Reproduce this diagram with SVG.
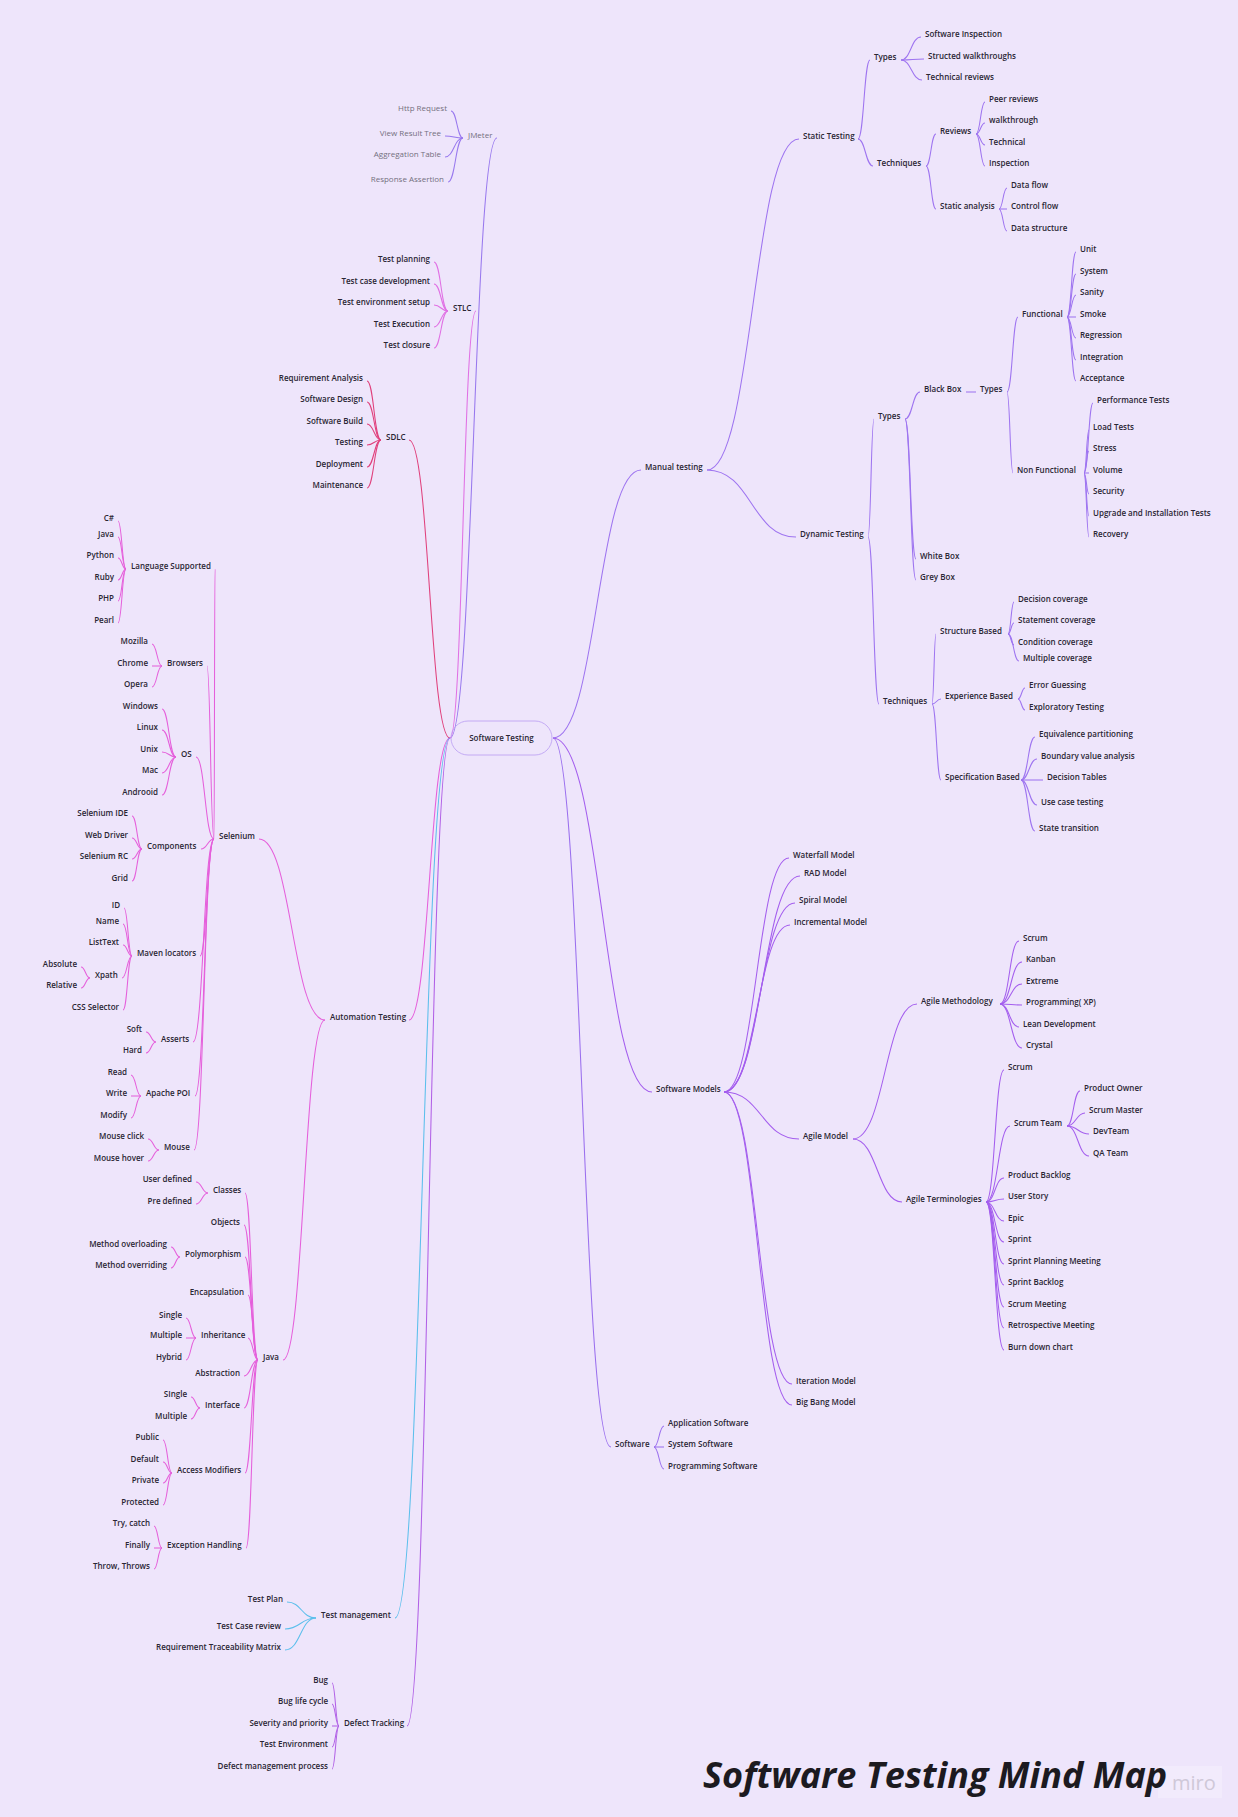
<svg xmlns="http://www.w3.org/2000/svg" width="1238" height="1817" viewBox="0 0 1238 1817">
<style>
.t{font-family:"Open Sans","Liberation Sans",sans-serif;font-size:8px;font-weight:600;fill:#2a2633}
.e{text-anchor:end}
.g{font-weight:400;fill:#74707e}
.m{text-anchor:middle}
#connectors path{fill:none;stroke-width:1.05}
.jm{stroke:#9878ee}.st{stroke:#e070e4}.sd{stroke:#e0407c}.au{stroke:#e55fdb}.tm{stroke:#5bbfec}.dt{stroke:#b160e6}.mt{stroke:#9e74f0}.sm{stroke:#a45eee}.sw{stroke:#9a6fee}
.title{font-family:"Open Sans","Liberation Sans",sans-serif;font-size:36px;font-weight:700;font-style:italic;fill:#1c1a20}
.wm{font-family:"Open Sans","Liberation Sans",sans-serif;font-size:20px;font-weight:400;fill:#cfc8d8}
</style>
<rect x="0" y="0" width="1238" height="1817" fill="#eee5fb"/>
<g id="connectors">
<path class="jm" d="M497 138C473.5 138 473.5 738 450 738"/>
<path class="jm" d="M463 138C457 138 457 111 451 111"/>
<path class="jm" d="M463 138C454 138 454 136 445 136"/>
<path class="jm" d="M463 138C454 138 454 157 445 157"/>
<path class="jm" d="M463 138C455.5 138 455.5 182 448 182"/>
<path class="st" d="M476 311C463 311 463 738 450 738"/>
<path class="st" d="M448 311C441 311 441 262 434 262"/>
<path class="st" d="M448 311C441 311 441 284 434 284"/>
<path class="st" d="M448 311C441 311 441 305 434 305"/>
<path class="st" d="M448 311C441 311 441 327 434 327"/>
<path class="st" d="M448 311C441 311 441 348 434 348"/>
<path class="sd" d="M409 440C429.5 440 429.5 738 450 738"/>
<path class="sd" d="M381 440C374 440 374 381 367 381"/>
<path class="sd" d="M381 440C374 440 374 402 367 402"/>
<path class="sd" d="M381 440C374 440 374 424 367 424"/>
<path class="sd" d="M381 440C374 440 374 445 367 445"/>
<path class="sd" d="M381 440C374 440 374 467 367 467"/>
<path class="sd" d="M381 440C374 440 374 488 367 488"/>
<path class="au" d="M409 1020C429.5 1020 429.5 738 450 738"/>
<path class="au" d="M325 1020C292 1020 292 839 259 839"/>
<path class="au" d="M325 1020C304 1020 304 1360 283 1360"/>
<path class="au" d="M214 839C214.5 839 214.5 569 215 569"/>
<path class="au" d="M214 839C210.5 839 210.5 666 207 666"/>
<path class="au" d="M214 839C205 839 205 757 196 757"/>
<path class="au" d="M214 839C207.5 839 207.5 849 201 849"/>
<path class="au" d="M214 839C207 839 207 956 200 956"/>
<path class="au" d="M214 839C203.5 839 203.5 1042 193 1042"/>
<path class="au" d="M214 839C204.5 839 204.5 1096 195 1096"/>
<path class="au" d="M214 839C204 839 204 1150 194 1150"/>
<path class="au" d="M126 569C122 569 122 521 118 521"/>
<path class="au" d="M126 569C122 569 122 537 118 537"/>
<path class="au" d="M126 569C122 569 122 558 118 558"/>
<path class="au" d="M126 569C122 569 122 580 118 580"/>
<path class="au" d="M126 569C122 569 122 601 118 601"/>
<path class="au" d="M126 569C122 569 122 623 118 623"/>
<path class="au" d="M162 666C157 666 157 644 152 644"/>
<path class="au" d="M162 666L152 666"/>
<path class="au" d="M162 666C157 666 157 687 152 687"/>
<path class="au" d="M176 757C169 757 169 709 162 709"/>
<path class="au" d="M176 757C169 757 169 730 162 730"/>
<path class="au" d="M176 757C169 757 169 752 162 752"/>
<path class="au" d="M176 757C169 757 169 773 162 773"/>
<path class="au" d="M176 757C169 757 169 795 162 795"/>
<path class="au" d="M142 849C137 849 137 816 132 816"/>
<path class="au" d="M142 849C137 849 137 838 132 838"/>
<path class="au" d="M142 849C137 849 137 859 132 859"/>
<path class="au" d="M142 849C137 849 137 881 132 881"/>
<path class="au" d="M132 956C128 956 128 908 124 908"/>
<path class="au" d="M132 956C127.5 956 127.5 924 123 924"/>
<path class="au" d="M132 956C127.5 956 127.5 945 123 945"/>
<path class="au" d="M132 956C127 956 127 978 122 978"/>
<path class="au" d="M132 956C127.5 956 127.5 1010 123 1010"/>
<path class="au" d="M90 978C85.5 978 85.5 967 81 967"/>
<path class="au" d="M90 978C85.5 978 85.5 988 81 988"/>
<path class="au" d="M156 1042C151 1042 151 1032 146 1032"/>
<path class="au" d="M156 1042C151 1042 151 1053 146 1053"/>
<path class="au" d="M141 1096C136 1096 136 1075 131 1075"/>
<path class="au" d="M141 1096L131 1096"/>
<path class="au" d="M141 1096C136 1096 136 1118 131 1118"/>
<path class="au" d="M159 1150C153.5 1150 153.5 1139 148 1139"/>
<path class="au" d="M159 1150C153.5 1150 153.5 1161 148 1161"/>
<path class="au" d="M258 1360C251.5 1360 251.5 1193 245 1193"/>
<path class="au" d="M258 1360C251 1360 251 1225 244 1225"/>
<path class="au" d="M258 1360C251.5 1360 251.5 1257 245 1257"/>
<path class="au" d="M258 1360C253 1360 253 1295 248 1295"/>
<path class="au" d="M258 1360C253 1360 253 1338 248 1338"/>
<path class="au" d="M258 1360C251 1360 251 1376 244 1376"/>
<path class="au" d="M258 1360C251 1360 251 1408 244 1408"/>
<path class="au" d="M258 1360C251.5 1360 251.5 1473 245 1473"/>
<path class="au" d="M258 1360C252 1360 252 1548 246 1548"/>
<path class="au" d="M208 1193C202 1193 202 1182 196 1182"/>
<path class="au" d="M208 1193C202 1193 202 1204 196 1204"/>
<path class="au" d="M180 1257C175.5 1257 175.5 1247 171 1247"/>
<path class="au" d="M180 1257C175.5 1257 175.5 1268 171 1268"/>
<path class="au" d="M196 1338C191 1338 191 1318 186 1318"/>
<path class="au" d="M196 1338L186 1338"/>
<path class="au" d="M196 1338C191 1338 191 1360 186 1360"/>
<path class="au" d="M200 1408C195.5 1408 195.5 1397 191 1397"/>
<path class="au" d="M200 1408C195.5 1408 195.5 1419 191 1419"/>
<path class="au" d="M172 1473C167.5 1473 167.5 1440 163 1440"/>
<path class="au" d="M172 1473C167.5 1473 167.5 1462 163 1462"/>
<path class="au" d="M172 1473C167.5 1473 167.5 1483 163 1483"/>
<path class="au" d="M172 1473C167.5 1473 167.5 1505 163 1505"/>
<path class="au" d="M162 1548C158 1548 158 1526 154 1526"/>
<path class="au" d="M162 1548L154 1548"/>
<path class="au" d="M162 1548C158 1548 158 1569 154 1569"/>
<path class="tm" d="M395 1618C422.5 1618 422.5 738 450 738"/>
<path class="tm" d="M316 1618C301.5 1618 301.5 1602 287 1602"/>
<path class="tm" d="M316 1618C300.5 1618 300.5 1629 285 1629"/>
<path class="tm" d="M316 1618C300.5 1618 300.5 1650 285 1650"/>
<path class="dt" d="M407 1726C428.5 1726 428.5 738 450 738"/>
<path class="dt" d="M339 1726C335.5 1726 335.5 1683 332 1683"/>
<path class="dt" d="M339 1726C335.5 1726 335.5 1704 332 1704"/>
<path class="dt" d="M339 1726L332 1726"/>
<path class="dt" d="M339 1726C335.5 1726 335.5 1747 332 1747"/>
<path class="dt" d="M339 1726C335.5 1726 335.5 1769 332 1769"/>
<path class="mt" d="M553 738C597 738 597 470 641 470"/>
<path class="mt" d="M707 470C753 470 753 139 799 139"/>
<path class="mt" d="M707 470C751.5 470 751.5 537 796 537"/>
<path class="mt" d="M858 139C864 139 864 60 870 60"/>
<path class="mt" d="M858 139C865.5 139 865.5 166 873 166"/>
<path class="mt" d="M901 60C911 60 911 37 921 37"/>
<path class="mt" d="M901 60C912.5 60 912.5 59 924 59"/>
<path class="mt" d="M901 60C911.5 60 911.5 80 922 80"/>
<path class="mt" d="M926 166C931 166 931 134 936 134"/>
<path class="mt" d="M926 166C931 166 931 209 936 209"/>
<path class="mt" d="M976 134C980.5 134 980.5 102 985 102"/>
<path class="mt" d="M976 134C980.5 134 980.5 123 985 123"/>
<path class="mt" d="M976 134C980.5 134 980.5 145 985 145"/>
<path class="mt" d="M976 134C980.5 134 980.5 166 985 166"/>
<path class="mt" d="M999 209C1003 209 1003 188 1007 188"/>
<path class="mt" d="M999 209L1007 209"/>
<path class="mt" d="M999 209C1003 209 1003 231 1007 231"/>
<path class="mt" d="M868 537C871 537 871 419 874 419"/>
<path class="mt" d="M868 537C873.5 537 873.5 704 879 704"/>
<path class="mt" d="M905 419C912.5 419 912.5 392 920 392"/>
<path class="mt" d="M905 419C910.5 419 910.5 559 916 559"/>
<path class="mt" d="M905 419C910.5 419 910.5 580 916 580"/>
<path class="mt" d="M966 392L976 392"/>
<path class="mt" d="M1007 392C1012.5 392 1012.5 317 1018 317"/>
<path class="mt" d="M1007 392C1010 392 1010 473 1013 473"/>
<path class="mt" d="M1067 317C1071.5 317 1071.5 252 1076 252"/>
<path class="mt" d="M1067 317C1071.5 317 1071.5 274 1076 274"/>
<path class="mt" d="M1067 317C1071.5 317 1071.5 295 1076 295"/>
<path class="mt" d="M1067 317L1076 317"/>
<path class="mt" d="M1067 317C1071.5 317 1071.5 338 1076 338"/>
<path class="mt" d="M1067 317C1071.5 317 1071.5 360 1076 360"/>
<path class="mt" d="M1067 317C1071.5 317 1071.5 381 1076 381"/>
<path class="mt" d="M1084 473C1088.5 473 1088.5 403 1093 403"/>
<path class="mt" d="M1084 473C1086.5 473 1086.5 430 1089 430"/>
<path class="mt" d="M1084 473C1086.5 473 1086.5 451 1089 451"/>
<path class="mt" d="M1084 473L1089 473"/>
<path class="mt" d="M1084 473C1086.5 473 1086.5 494 1089 494"/>
<path class="mt" d="M1084 473C1086.5 473 1086.5 516 1089 516"/>
<path class="mt" d="M1084 473C1086.5 473 1086.5 537 1089 537"/>
<path class="mt" d="M932 704C934 704 934 634 936 634"/>
<path class="mt" d="M932 704C936.5 704 936.5 699 941 699"/>
<path class="mt" d="M932 704C936.5 704 936.5 780 941 780"/>
<path class="mt" d="M1008 634C1011 634 1011 602 1014 602"/>
<path class="mt" d="M1008 634C1011 634 1011 623 1014 623"/>
<path class="mt" d="M1008 634C1011 634 1011 645 1014 645"/>
<path class="mt" d="M1008 634C1013.5 634 1013.5 661 1019 661"/>
<path class="mt" d="M1018 699C1021.5 699 1021.5 688 1025 688"/>
<path class="mt" d="M1018 699C1021.5 699 1021.5 710 1025 710"/>
<path class="mt" d="M1021 780C1028 780 1028 737 1035 737"/>
<path class="mt" d="M1021 780C1029 780 1029 759 1037 759"/>
<path class="mt" d="M1021 780L1043 780"/>
<path class="mt" d="M1021 780C1029 780 1029 805 1037 805"/>
<path class="mt" d="M1021 780C1028 780 1028 831 1035 831"/>
<path class="sm" d="M553 738C602.5 738 602.5 1092 652 1092"/>
<path class="sm" d="M724 1092C756.5 1092 756.5 858 789 858"/>
<path class="sm" d="M724 1092C762 1092 762 876 800 876"/>
<path class="sm" d="M724 1092C759.5 1092 759.5 903 795 903"/>
<path class="sm" d="M724 1092C757 1092 757 925 790 925"/>
<path class="sm" d="M724 1092C761.5 1092 761.5 1139 799 1139"/>
<path class="sm" d="M724 1092C758 1092 758 1384 792 1384"/>
<path class="sm" d="M724 1092C758 1092 758 1405 792 1405"/>
<path class="sm" d="M853 1139C885 1139 885 1004 917 1004"/>
<path class="sm" d="M853 1139C877.5 1139 877.5 1202 902 1202"/>
<path class="sm" d="M1000 1004C1009.5 1004 1009.5 941 1019 941"/>
<path class="sm" d="M1000 1004C1011 1004 1011 962 1022 962"/>
<path class="sm" d="M1000 1004C1011 1004 1011 984 1022 984"/>
<path class="sm" d="M1000 1004C1011 1004 1011 1005 1022 1005"/>
<path class="sm" d="M1000 1004C1009.5 1004 1009.5 1027 1019 1027"/>
<path class="sm" d="M1000 1004C1011 1004 1011 1048 1022 1048"/>
<path class="sm" d="M986 1202C995 1202 995 1070 1004 1070"/>
<path class="sm" d="M986 1202C998 1202 998 1126 1010 1126"/>
<path class="sm" d="M986 1202C995 1202 995 1178 1004 1178"/>
<path class="sm" d="M986 1202C995 1202 995 1199 1004 1199"/>
<path class="sm" d="M986 1202C995 1202 995 1221 1004 1221"/>
<path class="sm" d="M986 1202C995 1202 995 1242 1004 1242"/>
<path class="sm" d="M986 1202C995 1202 995 1264 1004 1264"/>
<path class="sm" d="M986 1202C995 1202 995 1285 1004 1285"/>
<path class="sm" d="M986 1202C995 1202 995 1307 1004 1307"/>
<path class="sm" d="M986 1202C995 1202 995 1328 1004 1328"/>
<path class="sm" d="M986 1202C995 1202 995 1350 1004 1350"/>
<path class="sm" d="M1067 1126C1073.5 1126 1073.5 1091 1080 1091"/>
<path class="sm" d="M1067 1126C1076 1126 1076 1113 1085 1113"/>
<path class="sm" d="M1067 1126C1078 1126 1078 1134 1089 1134"/>
<path class="sm" d="M1067 1126C1078 1126 1078 1156 1089 1156"/>
<path class="sw" d="M553 738C582 738 582 1447 611 1447"/>
<path class="sw" d="M654 1447C659 1447 659 1426 664 1426"/>
<path class="sw" d="M654 1447L664 1447"/>
<path class="sw" d="M654 1447C659 1447 659 1469 664 1469"/>
</g>
<g id="n-root"><rect x="451" y="721" width="101" height="34" rx="17" fill="none" stroke="#b99cf2" stroke-width="0.8"/><text class="t m" x="501.5" y="741">Software Testing</text></g>
<g id="n-jmeter"><text class="t g" x="468" y="138">JMeter</text></g>
<g id="n-http"><text class="t g e" x="447" y="111">Http Request</text></g>
<g id="n-vrt"><text class="t g e" x="441" y="136">View Result Tree</text></g>
<g id="n-agg"><text class="t g e" x="441" y="157">Aggregation Table</text></g>
<g id="n-ra"><text class="t g e" x="444" y="182">Response Assertion</text></g>
<g id="n-stlc"><text class="t" x="453" y="311">STLC</text></g>
<g id="n-st1"><text class="t e" x="430" y="262">Test planning</text></g>
<g id="n-st2"><text class="t e" x="430" y="284">Test case development</text></g>
<g id="n-st3"><text class="t e" x="430" y="305">Test environment setup</text></g>
<g id="n-st4"><text class="t e" x="430" y="327">Test Execution</text></g>
<g id="n-st5"><text class="t e" x="430" y="348">Test closure</text></g>
<g id="n-sdlc"><text class="t" x="386" y="440">SDLC</text></g>
<g id="n-sd1"><text class="t e" x="363" y="381">Requirement Analysis</text></g>
<g id="n-sd2"><text class="t e" x="363" y="402">Software Design</text></g>
<g id="n-sd3"><text class="t e" x="363" y="424">Software Build</text></g>
<g id="n-sd4"><text class="t e" x="363" y="445">Testing</text></g>
<g id="n-sd5"><text class="t e" x="363" y="467">Deployment</text></g>
<g id="n-sd6"><text class="t e" x="363" y="488">Maintenance</text></g>
<g id="n-auto"><text class="t" x="330" y="1020">Automation Testing</text></g>
<g id="n-selenium"><text class="t" x="219" y="839">Selenium</text></g>
<g id="n-lang"><text class="t" x="131" y="569">Language Supported</text></g>
<g id="n-l1"><text class="t e" x="114" y="521">C#</text></g>
<g id="n-l2"><text class="t e" x="114" y="537">Java</text></g>
<g id="n-l3"><text class="t e" x="114" y="558">Python</text></g>
<g id="n-l4"><text class="t e" x="114" y="580">Ruby</text></g>
<g id="n-l5"><text class="t e" x="114" y="601">PHP</text></g>
<g id="n-l6"><text class="t e" x="114" y="623">Pearl</text></g>
<g id="n-browsers"><text class="t" x="167" y="666">Browsers</text></g>
<g id="n-b1"><text class="t e" x="148" y="644">Mozilla</text></g>
<g id="n-b2"><text class="t e" x="148" y="666">Chrome</text></g>
<g id="n-b3"><text class="t e" x="148" y="687">Opera</text></g>
<g id="n-os"><text class="t" x="181" y="757">OS</text></g>
<g id="n-o1"><text class="t e" x="158" y="709">Windows</text></g>
<g id="n-o2"><text class="t e" x="158" y="730">Linux</text></g>
<g id="n-o3"><text class="t e" x="158" y="752">Unix</text></g>
<g id="n-o4"><text class="t e" x="158" y="773">Mac</text></g>
<g id="n-o5"><text class="t e" x="158" y="795">Androoid</text></g>
<g id="n-comp"><text class="t" x="147" y="849">Components</text></g>
<g id="n-c1"><text class="t e" x="128" y="816">Selenium IDE</text></g>
<g id="n-c2"><text class="t e" x="128" y="838">Web Driver</text></g>
<g id="n-c3"><text class="t e" x="128" y="859">Selenium RC</text></g>
<g id="n-c4"><text class="t e" x="128" y="881">Grid</text></g>
<g id="n-maven"><text class="t" x="137" y="956">Maven locators</text></g>
<g id="n-m1"><text class="t e" x="120" y="908">ID</text></g>
<g id="n-m2"><text class="t e" x="119" y="924">Name</text></g>
<g id="n-m3"><text class="t e" x="119" y="945">ListText</text></g>
<g id="n-xpath"><text class="t" x="95" y="978">Xpath</text></g>
<g id="n-x1"><text class="t e" x="77" y="967">Absolute</text></g>
<g id="n-x2"><text class="t e" x="77" y="988">Relative</text></g>
<g id="n-m5"><text class="t e" x="119" y="1010">CSS Selector</text></g>
<g id="n-asserts"><text class="t" x="161" y="1042">Asserts</text></g>
<g id="n-a1"><text class="t e" x="142" y="1032">Soft</text></g>
<g id="n-a2"><text class="t e" x="142" y="1053">Hard</text></g>
<g id="n-poi"><text class="t" x="146" y="1096">Apache POI</text></g>
<g id="n-p1"><text class="t e" x="127" y="1075">Read</text></g>
<g id="n-p2"><text class="t e" x="127" y="1096">Write</text></g>
<g id="n-p3"><text class="t e" x="127" y="1118">Modify</text></g>
<g id="n-mouse"><text class="t" x="164" y="1150">Mouse</text></g>
<g id="n-mo1"><text class="t e" x="144" y="1139">Mouse click</text></g>
<g id="n-mo2"><text class="t e" x="144" y="1161">Mouse hover</text></g>
<g id="n-java"><text class="t" x="263" y="1360">Java</text></g>
<g id="n-classes"><text class="t" x="213" y="1193">Classes</text></g>
<g id="n-cl1"><text class="t e" x="192" y="1182">User defined</text></g>
<g id="n-cl2"><text class="t e" x="192" y="1204">Pre defined</text></g>
<g id="n-objects"><text class="t e" x="240" y="1225">Objects</text></g>
<g id="n-poly"><text class="t" x="185" y="1257">Polymorphism</text></g>
<g id="n-po1"><text class="t e" x="167" y="1247">Method overloading</text></g>
<g id="n-po2"><text class="t e" x="167" y="1268">Method overriding</text></g>
<g id="n-encap"><text class="t e" x="244" y="1295">Encapsulation</text></g>
<g id="n-inh"><text class="t" x="201" y="1338">Inheritance</text></g>
<g id="n-i1"><text class="t e" x="182" y="1318">Single</text></g>
<g id="n-i2"><text class="t e" x="182" y="1338">Multiple</text></g>
<g id="n-i3"><text class="t e" x="182" y="1360">Hybrid</text></g>
<g id="n-abs"><text class="t e" x="240" y="1376">Abstraction</text></g>
<g id="n-iface"><text class="t" x="205" y="1408">Interface</text></g>
<g id="n-if1"><text class="t e" x="187" y="1397">SIngle</text></g>
<g id="n-if2"><text class="t e" x="187" y="1419">Multiple</text></g>
<g id="n-access"><text class="t" x="177" y="1473">Access Modifiers</text></g>
<g id="n-ac1"><text class="t e" x="159" y="1440">Public</text></g>
<g id="n-ac2"><text class="t e" x="159" y="1462">Default</text></g>
<g id="n-ac3"><text class="t e" x="159" y="1483">Private</text></g>
<g id="n-ac4"><text class="t e" x="159" y="1505">Protected</text></g>
<g id="n-exc"><text class="t" x="167" y="1548">Exception Handling</text></g>
<g id="n-ex1"><text class="t e" x="150" y="1526">Try, catch</text></g>
<g id="n-ex2"><text class="t e" x="150" y="1548">Finally</text></g>
<g id="n-ex3"><text class="t e" x="150" y="1569">Throw, Throws</text></g>
<g id="n-tm"><text class="t" x="321" y="1618">Test management</text></g>
<g id="n-tm1"><text class="t e" x="283" y="1602">Test Plan</text></g>
<g id="n-tm2"><text class="t e" x="281" y="1629">Test Case review</text></g>
<g id="n-tm3"><text class="t e" x="281" y="1650">Requirement Traceability Matrix</text></g>
<g id="n-dt"><text class="t" x="344" y="1726">Defect Tracking</text></g>
<g id="n-dt1"><text class="t e" x="328" y="1683">Bug</text></g>
<g id="n-dt2"><text class="t e" x="328" y="1704">Bug life cycle</text></g>
<g id="n-dt3"><text class="t e" x="328" y="1726">Severity and priority</text></g>
<g id="n-dt4"><text class="t e" x="328" y="1747">Test Environment</text></g>
<g id="n-dt5"><text class="t e" x="328" y="1769">Defect management process</text></g>
<g id="n-manual"><text class="t" x="645" y="470">Manual testing</text></g>
<g id="n-static"><text class="t" x="803" y="139">Static Testing</text></g>
<g id="n-stypes"><text class="t" x="874" y="60">Types</text></g>
<g id="n-sty1"><text class="t" x="925" y="37">Software Inspection</text></g>
<g id="n-sty2"><text class="t" x="928" y="59">Structed walkthroughs</text></g>
<g id="n-sty3"><text class="t" x="926" y="80">Technical reviews</text></g>
<g id="n-stech"><text class="t" x="877" y="166">Techniques</text></g>
<g id="n-reviews"><text class="t" x="940" y="134">Reviews</text></g>
<g id="n-r1"><text class="t" x="989" y="102">Peer reviews</text></g>
<g id="n-r2"><text class="t" x="989" y="123">walkthrough</text></g>
<g id="n-r3"><text class="t" x="989" y="145">Technical</text></g>
<g id="n-r4"><text class="t" x="989" y="166">Inspection</text></g>
<g id="n-sanalysis"><text class="t" x="940" y="209">Static analysis</text></g>
<g id="n-sa1"><text class="t" x="1011" y="188">Data flow</text></g>
<g id="n-sa2"><text class="t" x="1011" y="209">Control flow</text></g>
<g id="n-sa3"><text class="t" x="1011" y="231">Data structure</text></g>
<g id="n-dynamic"><text class="t" x="800" y="537">Dynamic Testing</text></g>
<g id="n-dtypes"><text class="t" x="878" y="419">Types</text></g>
<g id="n-blackbox"><text class="t" x="924" y="392">Black Box</text></g>
<g id="n-bbtypes"><text class="t" x="980" y="392">Types</text></g>
<g id="n-functional"><text class="t" x="1022" y="317">Functional</text></g>
<g id="n-f1"><text class="t" x="1080" y="252">Unit</text></g>
<g id="n-f2"><text class="t" x="1080" y="274">System</text></g>
<g id="n-f3"><text class="t" x="1080" y="295">Sanity</text></g>
<g id="n-f4"><text class="t" x="1080" y="317">Smoke</text></g>
<g id="n-f5"><text class="t" x="1080" y="338">Regression</text></g>
<g id="n-f6"><text class="t" x="1080" y="360">Integration</text></g>
<g id="n-f7"><text class="t" x="1080" y="381">Acceptance</text></g>
<g id="n-nonfunc"><text class="t" x="1017" y="473">Non Functional</text></g>
<g id="n-nf1"><text class="t" x="1097" y="403">Performance Tests</text></g>
<g id="n-nf2"><text class="t" x="1093" y="430">Load Tests</text></g>
<g id="n-nf3"><text class="t" x="1093" y="451">Stress</text></g>
<g id="n-nf4"><text class="t" x="1093" y="473">Volume</text></g>
<g id="n-nf5"><text class="t" x="1093" y="494">Security</text></g>
<g id="n-nf6"><text class="t" x="1093" y="516">Upgrade and Installation Tests</text></g>
<g id="n-nf7"><text class="t" x="1093" y="537">Recovery</text></g>
<g id="n-whitebox"><text class="t" x="920" y="559">White Box</text></g>
<g id="n-greybox"><text class="t" x="920" y="580">Grey Box</text></g>
<g id="n-dtech"><text class="t" x="883" y="704">Techniques</text></g>
<g id="n-structure"><text class="t" x="940" y="634">Structure Based</text></g>
<g id="n-sb1"><text class="t" x="1018" y="602">Decision coverage</text></g>
<g id="n-sb2"><text class="t" x="1018" y="623">Statement coverage</text></g>
<g id="n-sb3"><text class="t" x="1018" y="645">Condition coverage</text></g>
<g id="n-sb4"><text class="t" x="1023" y="661">Multiple coverage</text></g>
<g id="n-experience"><text class="t" x="945" y="699">Experience Based</text></g>
<g id="n-eb1"><text class="t" x="1029" y="688">Error Guessing</text></g>
<g id="n-eb2"><text class="t" x="1029" y="710">Exploratory Testing</text></g>
<g id="n-spec"><text class="t" x="945" y="780">Specification Based</text></g>
<g id="n-sp1"><text class="t" x="1039" y="737">Equivalence partitioning</text></g>
<g id="n-sp2"><text class="t" x="1041" y="759">Boundary value analysis</text></g>
<g id="n-sp3"><text class="t" x="1047" y="780">Decision Tables</text></g>
<g id="n-sp4"><text class="t" x="1041" y="805">Use case testing</text></g>
<g id="n-sp5"><text class="t" x="1039" y="831">State transition</text></g>
<g id="n-models"><text class="t" x="656" y="1092">Software Models</text></g>
<g id="n-waterfall"><text class="t" x="793" y="858">Waterfall Model</text></g>
<g id="n-rad"><text class="t" x="804" y="876">RAD Model</text></g>
<g id="n-spiral"><text class="t" x="799" y="903">Spiral Model</text></g>
<g id="n-incremental"><text class="t" x="794" y="925">Incremental Model</text></g>
<g id="n-agile"><text class="t" x="803" y="1139">Agile Model</text></g>
<g id="n-agmeth"><text class="t" x="921" y="1004">Agile Methodology</text></g>
<g id="n-am1"><text class="t" x="1023" y="941">Scrum</text></g>
<g id="n-am2"><text class="t" x="1026" y="962">Kanban</text></g>
<g id="n-am3"><text class="t" x="1026" y="984">Extreme</text></g>
<g id="n-am4"><text class="t" x="1026" y="1005">Programming( XP)</text></g>
<g id="n-am5"><text class="t" x="1023" y="1027">Lean Development</text></g>
<g id="n-am6"><text class="t" x="1026" y="1048">Crystal</text></g>
<g id="n-agterm"><text class="t" x="906" y="1202">Agile Terminologies</text></g>
<g id="n-at1"><text class="t" x="1008" y="1070">Scrum</text></g>
<g id="n-scrumteam"><text class="t" x="1014" y="1126">Scrum Team</text></g>
<g id="n-tt1"><text class="t" x="1084" y="1091">Product Owner</text></g>
<g id="n-tt2"><text class="t" x="1089" y="1113">Scrum Master</text></g>
<g id="n-tt3"><text class="t" x="1093" y="1134">DevTeam</text></g>
<g id="n-tt4"><text class="t" x="1093" y="1156">QA Team</text></g>
<g id="n-at2"><text class="t" x="1008" y="1178">Product Backlog</text></g>
<g id="n-at3"><text class="t" x="1008" y="1199">User Story</text></g>
<g id="n-at4"><text class="t" x="1008" y="1221">Epic</text></g>
<g id="n-at5"><text class="t" x="1008" y="1242">Sprint</text></g>
<g id="n-at6"><text class="t" x="1008" y="1264">Sprint Planning Meeting</text></g>
<g id="n-at7"><text class="t" x="1008" y="1285">Sprint Backlog</text></g>
<g id="n-at8"><text class="t" x="1008" y="1307">Scrum Meeting</text></g>
<g id="n-at9"><text class="t" x="1008" y="1328">Retrospective Meeting</text></g>
<g id="n-at10"><text class="t" x="1008" y="1350">Burn down chart</text></g>
<g id="n-iteration"><text class="t" x="796" y="1384">Iteration Model</text></g>
<g id="n-bigbang"><text class="t" x="796" y="1405">Big Bang Model</text></g>
<g id="n-software"><text class="t" x="615" y="1447">Software</text></g>
<g id="n-sw1"><text class="t" x="668" y="1426">Application Software</text></g>
<g id="n-sw2"><text class="t" x="668" y="1447">System Software</text></g>
<g id="n-sw3"><text class="t" x="668" y="1469">Programming Software</text></g>
<g id="watermark"><rect x="1158" y="1766" width="64" height="32" fill="#ffffff" opacity="0.25"/><text class="wm" x="1172" y="1790">miro</text></g>
<g id="title"><text class="title" x="703" y="1788">Software Testing Mind Map</text></g>
</svg>
